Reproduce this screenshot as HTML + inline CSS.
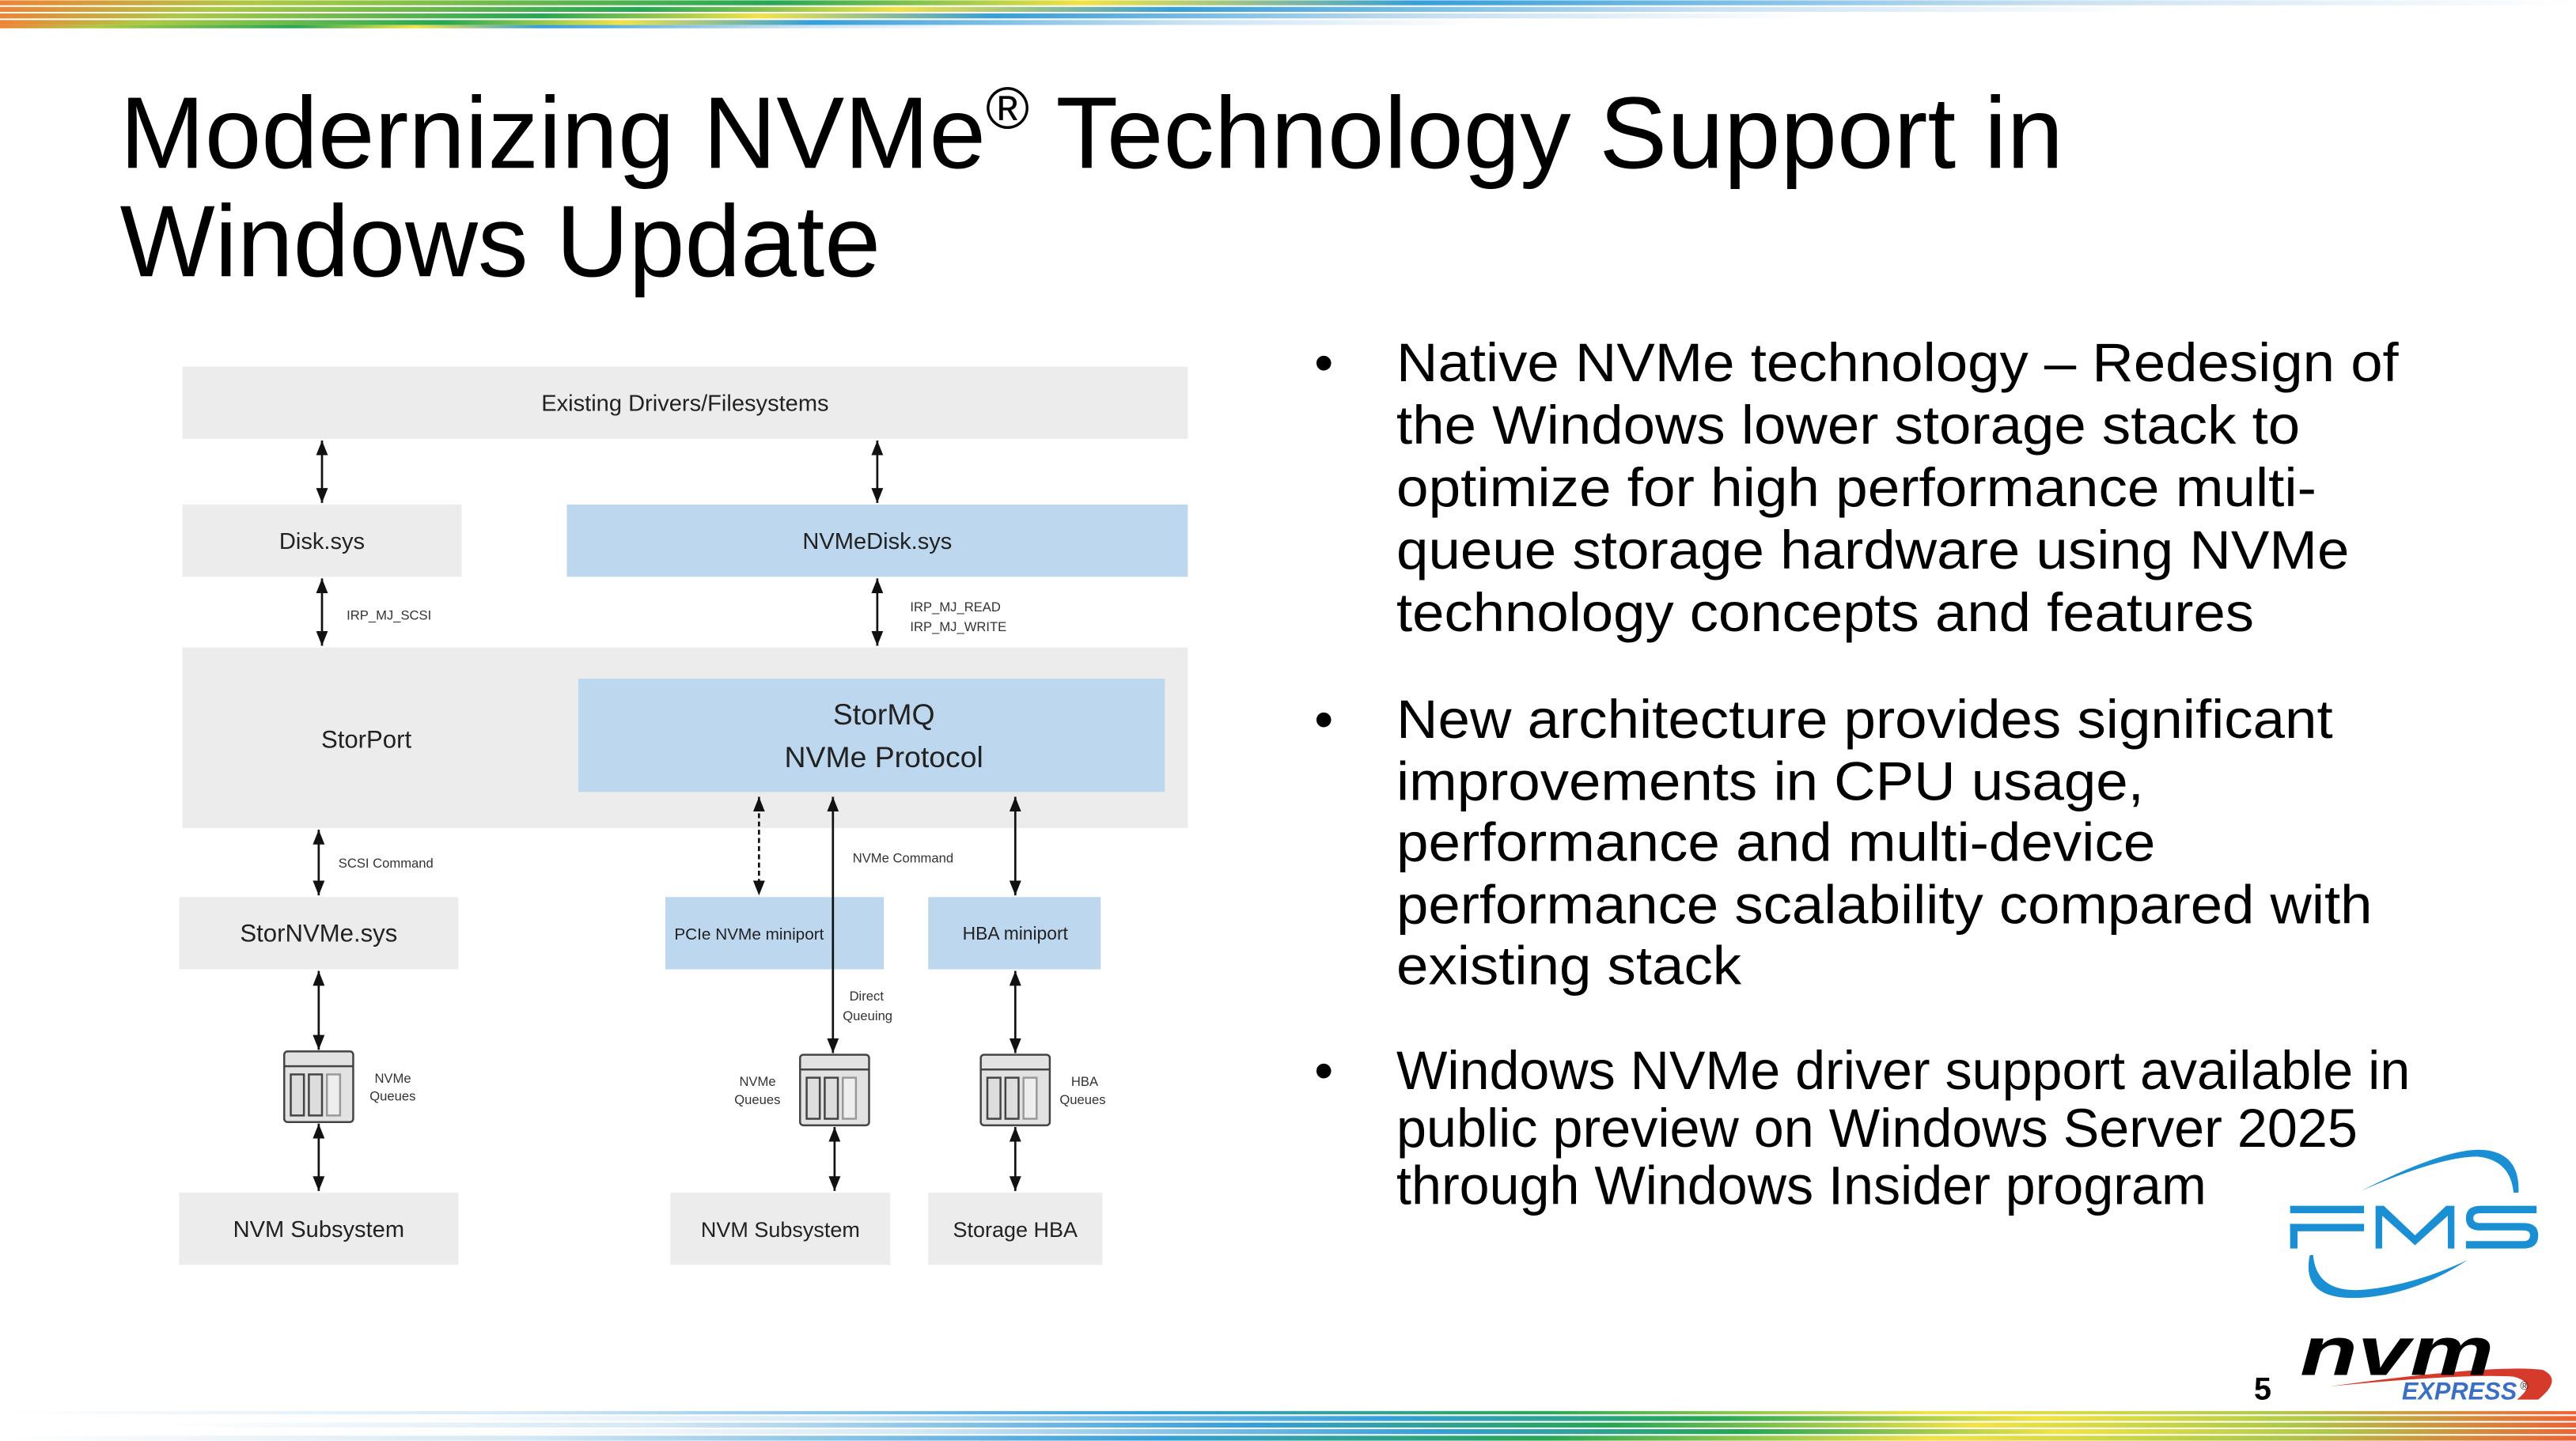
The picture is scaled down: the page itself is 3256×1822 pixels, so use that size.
<!DOCTYPE html>
<html><head><meta charset="utf-8"><style>
html,body{margin:0;padding:0;background:#fff;width:3256px;height:1822px;overflow:hidden}
svg{display:block}
</style></head><body>
<svg width="3256" height="1822" viewBox="0 0 1568 877" xmlns="http://www.w3.org/2000/svg" font-family="Liberation Sans, sans-serif">
<defs>
<linearGradient id="tg" x1="0" x2="1" y1="0" y2="0">
<stop offset="0" stop-color="#ef7d2a"/><stop offset="0.1" stop-color="#a8c83a"/><stop offset="0.3" stop-color="#1aa34a"/><stop offset="0.42" stop-color="#f2e23a"/><stop offset="0.55" stop-color="#2a9ad8"/><stop offset="0.8" stop-color="#c7e0f2"/><stop offset="1" stop-color="#ffffff"/>
</linearGradient>
<linearGradient id="bg" x1="0" x2="1" y1="0" y2="0">
<stop offset="0" stop-color="#ffffff"/><stop offset="0.2" stop-color="#d5e8f5"/><stop offset="0.45" stop-color="#2a9ad8"/><stop offset="0.6" stop-color="#1aa34a"/><stop offset="0.75" stop-color="#f2e23a"/><stop offset="0.88" stop-color="#a8c83a"/><stop offset="1" stop-color="#ef5a2a"/>
</linearGradient>
<marker id="ah" viewBox="0 0 10 10" refX="10" refY="5" markerWidth="9" markerHeight="9" markerUnits="userSpaceOnUse" orient="auto-start-reverse"><path d="M0,1 L10,5 L0,9 z" fill="#111"/></marker>
</defs>
<g opacity="0.95">
<rect x="0" y="0" width="1568" height="3" fill="url(#tg)"/>
<rect x="0" y="4" width="1300" height="3" fill="url(#tg)"/>
<rect x="0" y="8" width="1100" height="3" fill="url(#tg)"/>
<rect x="0" y="12" width="900" height="3" fill="url(#tg)"/>
<rect x="0" y="15" width="600" height="2" fill="url(#tg)"/>
<rect x="0" y="859" width="1568" height="2" fill="url(#bg)"/>
<rect x="250" y="862" width="1318" height="3" fill="url(#bg)"/>
<rect x="100" y="866" width="1468" height="3" fill="url(#bg)"/>
<rect x="300" y="870" width="1268" height="3" fill="url(#bg)"/>
<rect x="0" y="874" width="1568" height="3" fill="url(#bg)"/>
</g>
<text x="73" y="102" font-size="62" fill="#000" textLength="1183" lengthAdjust="spacingAndGlyphs">Modernizing NVMe<tspan font-size="36" dy="-24">®</tspan><tspan dy="24"> Technology Support in</tspan></text>
<text x="73" y="168" font-size="62" fill="#000" textLength="463" lengthAdjust="spacingAndGlyphs">Windows Update</text>
<g font-family="Liberation Sans Narrow, Liberation Sans, sans-serif" fill="#222" text-anchor="middle">
<rect x="111" y="223" width="612" height="44" fill="#ececec"/>
<text x="417" y="250" font-size="14">Existing Drivers/Filesystems</text>
<rect x="111" y="307" width="170" height="44" fill="#ececec"/>
<text x="196" y="334" font-size="14">Disk.sys</text>
<rect x="345" y="307" width="378" height="44" fill="#bdd7ee"/>
<text x="534" y="334" font-size="14">NVMeDisk.sys</text>
<rect x="111" y="394" width="612" height="110" fill="#ececec"/>
<text x="223" y="455" font-size="15">StorPort</text>
<rect x="352" y="413" width="357" height="69" fill="#bdd7ee"/>
<text x="538" y="441" font-size="18">StorMQ</text>
<text x="538" y="467" font-size="18">NVMe Protocol</text>
<rect x="109" y="546" width="170" height="44" fill="#ececec"/>
<text x="194" y="573" font-size="15">StorNVMe.sys</text>
<rect x="405" y="546" width="133" height="44" fill="#bdd7ee"/>
<text x="456" y="572" font-size="10">PCIe NVMe miniport</text>
<rect x="565" y="546" width="105" height="44" fill="#bdd7ee"/>
<text x="618" y="572" font-size="11">HBA miniport</text>
<rect x="109" y="726" width="170" height="44" fill="#ececec"/>
<text x="194" y="753" font-size="14">NVM Subsystem</text>
<rect x="408" y="726" width="134" height="44" fill="#ececec"/>
<text x="475" y="753" font-size="13">NVM Subsystem</text>
<rect x="565" y="726" width="106" height="44" fill="#ececec"/>
<text x="618" y="753" font-size="13">Storage HBA</text>
<g font-size="8" text-anchor="start" fill="#333">
<text x="211" y="377">IRP_MJ_SCSI</text>
<text x="554" y="372">IRP_MJ_READ</text>
<text x="554" y="384">IRP_MJ_WRITE</text>
<text x="206" y="528">SCSI Command</text>
<text x="519" y="525">NVMe Command</text>
<text x="517" y="609">Direct</text>
<text x="513" y="621">Queuing</text>
<text x="228" y="659">NVMe</text>
<text x="225" y="670">Queues</text>
<text x="450" y="661">NVMe</text>
<text x="447" y="672">Queues</text>
<text x="652" y="661">HBA</text>
<text x="645" y="672">Queues</text>
</g>
</g>
<g stroke="#444" stroke-width="1.2" fill="#e2e2e2">
<g transform="translate(173,640)"><rect x="0" y="0" width="42" height="43" rx="2"/><line x1="0" y1="9" x2="42" y2="9"/><rect x="4" y="14" width="8" height="25" fill="#ddd"/><rect x="15" y="14" width="8" height="25" fill="#ddd"/><rect x="26" y="14" width="8" height="25" fill="#eee" stroke="#999"/></g>
<g transform="translate(487,642)"><rect x="0" y="0" width="42" height="43" rx="2"/><line x1="0" y1="9" x2="42" y2="9"/><rect x="4" y="14" width="8" height="25" fill="#ddd"/><rect x="15" y="14" width="8" height="25" fill="#ddd"/><rect x="26" y="14" width="8" height="25" fill="#eee" stroke="#999"/></g>
<g transform="translate(597,642)"><rect x="0" y="0" width="42" height="43" rx="2"/><line x1="0" y1="9" x2="42" y2="9"/><rect x="4" y="14" width="8" height="25" fill="#ddd"/><rect x="15" y="14" width="8" height="25" fill="#ddd"/><rect x="26" y="14" width="8" height="25" fill="#eee" stroke="#999"/></g>
</g>
<g stroke="#111" stroke-width="1.3" fill="none">
<line x1="196" y1="268" x2="196" y2="306" marker-start="url(#ah)" marker-end="url(#ah)"/>
<line x1="534" y1="268" x2="534" y2="306" marker-start="url(#ah)" marker-end="url(#ah)"/>
<line x1="196" y1="352" x2="196" y2="393" marker-start="url(#ah)" marker-end="url(#ah)"/>
<line x1="534" y1="352" x2="534" y2="393" marker-start="url(#ah)" marker-end="url(#ah)"/>
<line x1="194" y1="505" x2="194" y2="545" marker-start="url(#ah)" marker-end="url(#ah)"/>
<line x1="462" y1="485" x2="462" y2="545" stroke-dasharray="3,2" marker-start="url(#ah)" marker-end="url(#ah)"/>
<line x1="507" y1="485" x2="507" y2="641" marker-start="url(#ah)" marker-end="url(#ah)"/>
<line x1="618" y1="485" x2="618" y2="545" marker-start="url(#ah)" marker-end="url(#ah)"/>
<line x1="194" y1="591" x2="194" y2="639" marker-start="url(#ah)" marker-end="url(#ah)"/>
<line x1="194" y1="684" x2="194" y2="725" marker-start="url(#ah)" marker-end="url(#ah)"/>
<line x1="508" y1="686" x2="508" y2="725" marker-start="url(#ah)" marker-end="url(#ah)"/>
<line x1="618" y1="591" x2="618" y2="641" marker-start="url(#ah)" marker-end="url(#ah)"/>
<line x1="618" y1="686" x2="618" y2="725" marker-start="url(#ah)" marker-end="url(#ah)"/>
</g>
<g font-size="33" fill="#000">
<text x="800" y="232">•</text>
<text x="850" y="232" textLength="610" lengthAdjust="spacingAndGlyphs">Native NVMe technology – Redesign of</text>
<text x="850" y="270" textLength="550" lengthAdjust="spacingAndGlyphs">the Windows lower storage stack to</text>
<text x="850" y="308" textLength="560" lengthAdjust="spacingAndGlyphs">optimize for high performance multi-</text>
<text x="850" y="346" textLength="580" lengthAdjust="spacingAndGlyphs">queue storage hardware using NVMe</text>
<text x="850" y="384" textLength="522" lengthAdjust="spacingAndGlyphs">technology concepts and features</text>
<text x="800" y="449">•</text>
<text x="850" y="449" textLength="570" lengthAdjust="spacingAndGlyphs">New architecture provides significant</text>
<text x="850" y="487" textLength="455" lengthAdjust="spacingAndGlyphs">improvements in CPU usage,</text>
<text x="850" y="524" textLength="462" lengthAdjust="spacingAndGlyphs">performance and multi-device</text>
<text x="850" y="562" textLength="594" lengthAdjust="spacingAndGlyphs">performance scalability compared with</text>
<text x="850" y="599" textLength="210" lengthAdjust="spacingAndGlyphs">existing stack</text>
<text x="800" y="663">•</text>
<text x="850" y="663" textLength="617" lengthAdjust="spacingAndGlyphs">Windows NVMe driver support available in</text>
<text x="850" y="698" textLength="585" lengthAdjust="spacingAndGlyphs">public preview on Windows Server 2025</text>
<text x="850" y="733" textLength="493" lengthAdjust="spacingAndGlyphs">through Windows Insider program</text>
</g>
<!-- FMS logo -->
<g fill="#1a8fd4">
<path d="M1437,725 Q1490,698 1512,700 Q1534,702 1533,726 L1530,726 Q1528,706 1508,704 Q1485,704 1437,725 Z"/>
<path d="M1406,764 Q1400,792 1437,790 Q1470,788 1502,767 Q1470,782 1440,785 Q1410,788 1408,764 Z"/>
<rect x="1394" y="734" width="45" height="4.5"/>
<rect x="1394" y="745" width="45" height="4.5"/>
<rect x="1394" y="745" width="4.5" height="15"/>
<path d="M1446,760 V734 H1451 L1470,752 L1489,734 H1494 V760 H1490 V740 L1470,758 L1450,740 V760 Z"/>
<path d="M1544,734 H1510 Q1501,734 1501,741.5 Q1501,749 1510,749 H1536 Q1540,749 1540,752 Q1540,755.5 1536,755.5 H1501 V760 H1536 Q1545,760 1545,752 Q1545,744.5 1536,744.5 H1510 Q1505.5,744.5 1505.5,741.5 Q1505.5,738.5 1510,738.5 H1544 Z"/>
</g>
<text x="1372" y="852" font-size="19" font-weight="bold" fill="#000">5</text>
<path d="M1418,844 Q1520,830 1548,834 Q1560,840 1545,852 L1532,852 Q1545,842 1530,838 Q1500,836 1418,844 Z" fill="#d63a2b"/>
<text x="1400" y="837" font-size="42" font-weight="bold" font-style="italic" fill="#000" textLength="118" lengthAdjust="spacingAndGlyphs">nvm</text>
<text x="1462" y="852" font-size="15" font-weight="bold" font-style="italic" fill="#3a6fc4" textLength="70" lengthAdjust="spacingAndGlyphs">EXPRESS</text>
<text x="1534" y="846" font-size="7" fill="#333">®</text>
</svg>
</body></html>
